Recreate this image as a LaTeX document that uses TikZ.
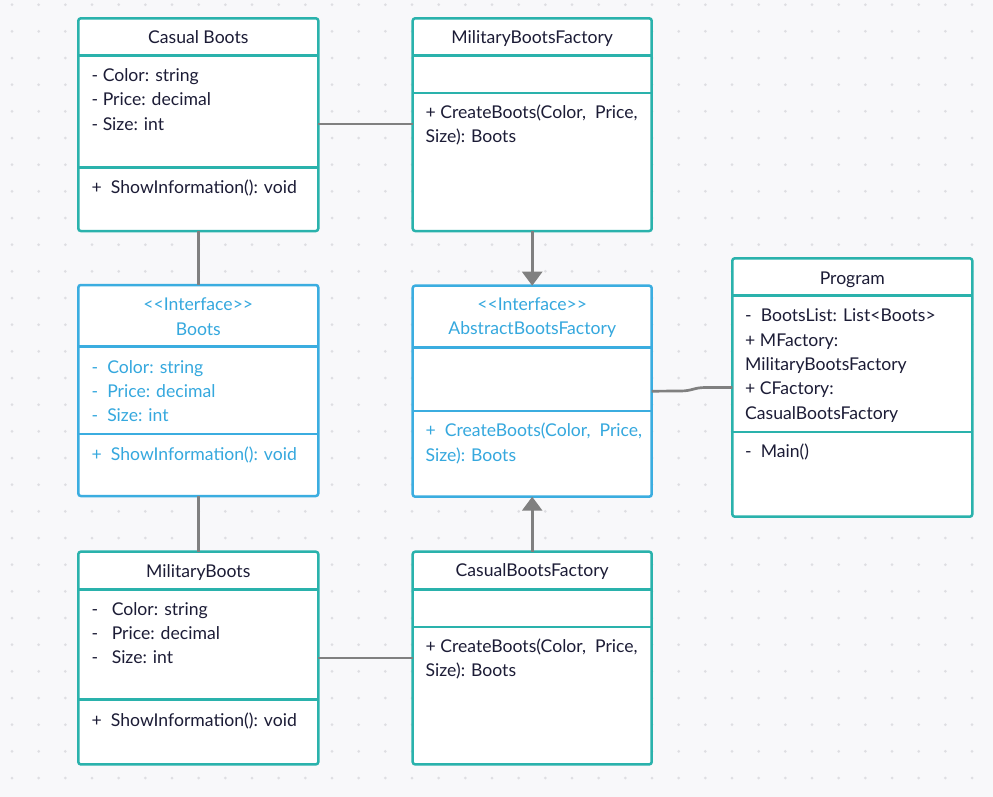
\documentclass[tikz,border=0pt]{standalone}
\usepackage{fontspec}
\setmainfont{Lato}
\usetikzlibrary{arrows.meta}
\definecolor{bgc}{RGB}{248,248,250}
\definecolor{dotc}{RGB}{222,222,226}
\definecolor{tealc}{RGB}{42,178,172}
\definecolor{iblue}{RGB}{59,173,224}
\definecolor{itext}{RGB}{53,168,222}
\definecolor{ink}{RGB}{28,28,54}
\definecolor{cgray}{RGB}{128,128,128}
\newcommand\umlfont{\fontsize{17.6}{21}\selectfont}
\tikzset{
  cls/.style={draw=tealc, line width=2.5pt, fill=white, rounded corners=2.5pt,
    inner sep=0pt, outer sep=0pt, anchor=north west},
  icls/.style={cls, draw=iblue},
  sepl/.style={draw=tealc, line width=2.5pt},
  isepl/.style={draw=iblue, line width=2.5pt},
  txt/.style={inner sep=0pt, anchor=base west, text=ink, font=\umlfont},
  ttl/.style={txt, anchor=base},
  itxt/.style={txt, text=itext},
  ittl/.style={ttl, text=itext},
  conn/.style={draw=cgray, line width=2.7pt},
  arr/.style={conn, -{Triangle[width=20pt,length=14pt]}}
}
\begin{document}
\begin{tikzpicture}[x=1pt,y=-1pt]
\useasboundingbox (0,0) rectangle (993,797);
\fill[bgc] (0,0) rectangle (993,797);
\foreach \i in {0,...,37}{
  \foreach \j in {0,...,29}{
    \fill[dotc] ({12+26.667*\i},{4.67+26.667*\j}) circle (1.5pt);
  }
}
\coordinate (c1) at (680,391);
\coordinate (c2) at (706,387.5);
% ---------- Casual Boots ----------
\node[cls, minimum width=240pt, minimum height=212.7pt] (cb) at (78.3,18.3) {};
\draw[sepl] (78.3,55.7) -- (318.3,55.7);
\draw[sepl] (78.3,167.3) -- (318.3,167.3);
\node[ttl] (cbt) at (198.3,44) {Casual Boots};
\node[txt] (cba1) at (91.5,81.7) {-~Color: string};
\node[txt] (cba2) at (91.5,106) {-~Price: decimal};
\node[txt] (cba3) at (91.5,130.3) {-~Size: int};
\node[txt] (cbm1) at (91.5,193.3) {+~~ShowInformation(): void};
% ---------- MilitaryBootsFactory ----------
\node[cls, minimum width=239pt, minimum height=212.7pt] (mbf) at (412.7,18.3) {};
\draw[sepl] (412.7,55.7) -- (651.7,55.7);
\draw[sepl] (412.7,93) -- (651.7,93);
\node[ttl] (mbft) at (532.2,44) {MilitaryBootsFactory};
\node[txt] (mbfm1) at (425.5,118.3) {+ CreateBoots(Color,~~Price,};
\node[txt] (mbfm2) at (425.5,142.7) {Size): Boots};
% ---------- Boots interface ----------
\node[icls, minimum width=240pt, minimum height=211pt] (bi) at (78.3,285) {};
\draw[isepl] (78.3,346.7) -- (318.3,346.7);
\draw[isepl] (78.3,434) -- (318.3,434);
\node[ittl] (bit1) at (198.3,310.7) {<{}<Interface>{}>};
\node[ittl] (bit2) at (198.3,335) {Boots};
\node[itxt] (bia1) at (91.5,373.3) {-~~Color: string};
\node[itxt] (bia2) at (91.5,397.3) {-~~Price: decimal};
\node[itxt] (bia3) at (91.5,421.3) {-~~Size: int};
\node[itxt] (bim1) at (91.5,460) {+~~ShowInformation(): void};
% ---------- AbstractBootsFactory ----------
\node[icls, minimum width=239pt, minimum height=211pt] (abf) at (412.7,285.7) {};
\draw[isepl] (412.7,347.7) -- (651.7,347.7);
\draw[isepl] (412.7,411) -- (651.7,411);
\node[ittl] (abft1) at (532.2,310.7) {<{}<Interface>{}>};
\node[ittl] (abft2) at (532.2,334.3) {AbstractBootsFactory};
\node[itxt] (abfm1) at (425.5,436.5) {+~~CreateBoots(Color,~~Price,};
\node[itxt] (abfm2) at (425.5,461) {Size): Boots};
% ---------- Program ----------
\node[cls, minimum width=240pt, minimum height=258.4pt] (prog) at (732.3,258.3) {};
\draw[sepl] (732.3,295.7) -- (972.3,295.7);
\draw[sepl] (732.3,432) -- (972.3,432);
\node[ttl] (progt) at (852.3,284) {Program};
\node[txt] (pa1) at (745,321) {-~~BootsList: List<Boots>};
\node[txt] (pa2) at (745,346) {+ MFactory:};
\node[txt] (pa3) at (745,370) {MilitaryBootsFactory};
\node[txt] (pa4) at (745,394.3) {+ CFactory:};
\node[txt] (pa5) at (745,419) {CasualBootsFactory};
\node[txt] (pm1) at (745,457.3) {-~~Main()};
% ---------- MilitaryBoots ----------
\node[cls, minimum width=240pt, minimum height=212.7pt] (mb) at (78.3,551.7) {};
\draw[sepl] (78.3,589.7) -- (318.3,589.7);
\draw[sepl] (78.3,699.3) -- (318.3,699.3);
\node[ttl] (mbt) at (198.3,577) {MilitaryBoots};
\node[txt] (mba1) at (91.5,615) {-~~~Color: string};
\node[txt] (mba2) at (91.5,639.3) {-~~~Price: decimal};
\node[txt] (mba3) at (91.5,663.6) {-~~~Size: int};
\node[txt] (mbm1) at (91.5,726) {+~~ShowInformation(): void};
% ---------- CasualBootsFactory ----------
\node[cls, minimum width=239pt, minimum height=212.7pt] (cbf) at (412.7,551.7) {};
\draw[sepl] (412.7,589.3) -- (651.7,589.3);
\draw[sepl] (412.7,627) -- (651.7,627);
\node[ttl] (cbft) at (532.2,576.7) {CasualBootsFactory};
\node[txt] (cbfm1) at (425.5,652.3) {+ CreateBoots(Color,~~Price,};
\node[txt] (cbfm2) at (425.5,676.7) {Size): Boots};
% ---------- connectors ----------
\draw[conn] (cb.east |- 0,124) -- (mbf.west |- 0,124);
\draw[conn] (cb.south) -- (bi.north);
\draw[conn] (bi.south) -- (mb.north);
\draw[conn] (mb.east |- 0,658) -- (cbf.west |- 0,658);
\draw[arr] (mbf.south) -- (abf.north);
\draw[arr] (cbf.north) -- (abf.south);
\draw[conn] (abf.east) -- (c1) .. controls +(13,0) and +(-13,0) .. (c2) -- (prog.west);
\end{tikzpicture}
\end{document}
